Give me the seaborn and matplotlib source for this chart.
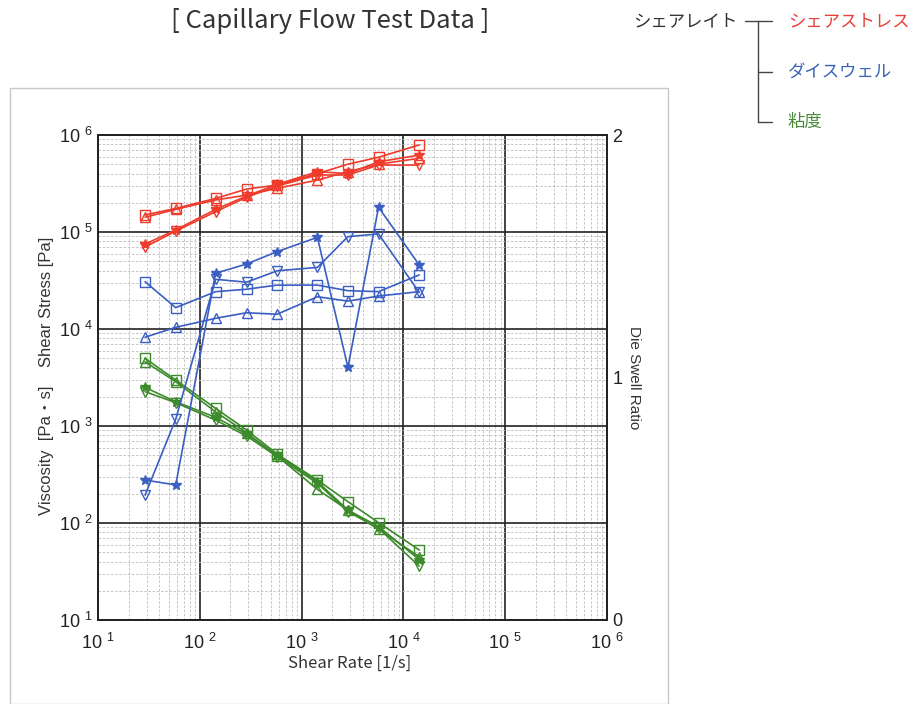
import matplotlib
matplotlib.use("Agg")
import matplotlib.pyplot as plt
from matplotlib.patches import Rectangle
from matplotlib.lines import Line2D
from matplotlib.ticker import FixedLocator, NullFormatter
import seaborn as sns
import pandas as pd

# ---------------- data ----------------
shear_rate = [29, 58, 143, 288, 575, 1430, 2850, 5700, 14300]

# Shear stress [Pa] (left log axis)
stress_sq = [1.50e5, 1.75e5, 2.22e5, 2.77e5, 3.05e5, 4.00e5, 5.00e5, 5.90e5, 7.90e5]
stress_up = [1.42e5, 1.71e5, 2.14e5, 2.40e5, 2.82e5, 3.43e5, 4.19e5, 5.00e5, 5.75e5]
stress_st = [7.5e4, 1.05e5, 1.71e5, 2.35e5, 3.10e5, 4.19e5, 4.00e5, 5.30e5, 6.20e5]
stress_dn = [7.0e4, 1.02e5, 1.62e5, 2.28e5, 2.98e5, 3.87e5, 3.87e5, 4.90e5, 4.90e5]

# Die swell ratio (right linear axis)
swell_sq = [1.395, 1.288, 1.354, 1.364, 1.381, 1.381, 1.358, 1.354, 1.423]
swell_up = [1.166, 1.207, 1.244, 1.267, 1.261, 1.333, 1.315, 1.336, 1.354]
swell_st = [0.577, 0.557, 1.430, 1.468, 1.519, 1.578, 1.042, 1.702, 1.464]
swell_dn = [0.515, 0.828, 1.405, 1.393, 1.440, 1.454, 1.581, 1.592, 1.351]

# Viscosity [Pa s] (left log axis)
visc_sq = [4990, 2980, 1520, 910, 514, 277, 166, 101, 52.7]
visc_up = [4600, 2860, 1400, 853, 490, 222, 136, 86, 45]
visc_st = [2500, 1780, 1230, 828, 502, 267, 136, 92, 42]
visc_dn = [2260, 1740, 1150, 790, 483, 257, 131, 88, 36]

decades = [1, 2, 3, 4, 5, 6]
swell_ticks = [0, 1, 2]

# ---------------- style ----------------
sns.set_style("white")
plt.rcParams['font.family'] = ['Liberation Sans', 'Noto Sans CJK JP', 'DejaVu Sans']
plt.rcParams['mathtext.fontset'] = 'custom'
plt.rcParams['mathtext.rm'] = 'Liberation Sans'
plt.rcParams['mathtext.it'] = 'Liberation Sans'

RED = "#ee3b2b"
BLUE = "#3a5ec2"
GREEN = "#3d8a2c"
TXT = "#333333"
cj = ["Noto Sans CJK JP", "DejaVu Sans"]

fig = plt.figure(figsize=(9.14, 7.04), dpi=100)
ax = fig.add_axes([98 / 914, 1 - 620 / 704, (607 - 98) / 914, (620 - 135) / 704])
ax2 = ax.twinx()

ax.set_xscale("log")
ax.set_yscale("log")
ax.set_xlim(10, 1e6)
ax.set_ylim(10, 1e6)
ax2.set_ylim(0, 2)

# grid
minor = [m * 10 ** d for d in range(1, 6) for m in range(2, 10)]
ax.xaxis.set_minor_locator(FixedLocator(minor))
ax.yaxis.set_minor_locator(FixedLocator(minor))
ax.xaxis.set_minor_formatter(NullFormatter())
ax.yaxis.set_minor_formatter(NullFormatter())
ax.grid(which="minor", color="#bdbdbd", linestyle=(0, (3, 2)), linewidth=0.6)
ax.grid(which="major", color="#222222", linestyle="-", linewidth=1.2)
ax.set_axisbelow(True)

ax.set_xticks([10 ** d for d in decades])
ax.set_xticklabels([r"10 $^{%d}$" % d for d in decades])
ax.set_yticks([10 ** d for d in decades])
ax.set_yticklabels([r"10 $^{%d}$" % d for d in decades])
ax2.set_yticks(swell_ticks)
ax2.set_yticklabels([str(t) for t in swell_ticks])

ax.tick_params(axis="x", which="both", length=0, labelsize=13, colors="#222222", pad=9)
ax.tick_params(axis="y", which="both", length=0, labelsize=13, colors="#222222", pad=4)
ax2.tick_params(which="both", length=0, labelsize=13, colors="#222222", pad=4)

for a in (ax, ax2):
    for s in a.spines.values():
        s.set_color("#222222")
        s.set_linewidth(1.3)

def draw(a, y, color, marker):
    df = pd.DataFrame({"x": shear_rate, "y": y})
    filled = marker == "*"
    sns.lineplot(data=df, x="x", y="y", ax=a, color=color, marker=marker,
                 markersize=7.5 if filled else 7,
                 markerfacecolor=color if filled else "none",
                 markeredgecolor=color, markeredgewidth=1.0,
                 linewidth=1.2, sort=False, legend=False)

for y, m in [(stress_sq, "s"), (stress_up, "^"), (stress_st, "*"), (stress_dn, "v")]:
    draw(ax, y, RED, m)
for y, m in [(visc_sq, "s"), (visc_up, "^"), (visc_st, "*"), (visc_dn, "v")]:
    draw(ax, y, GREEN, m)
for y, m in [(swell_sq, "s"), (swell_up, "^"), (swell_st, "*"), (swell_dn, "v")]:
    draw(ax2, y, BLUE, m)

ax.set_xlabel("")
ax.set_ylabel("")
ax2.set_ylabel("")

# axis labels
fig.text(350 / 914, 1 - 663 / 704, "Shear Rate [1/s]", ha="center", va="center", fontsize=12, color=TXT, family=cj)
fig.text(47 / 914, 1 - 302 / 704, "Shear Stress [Pa]", ha="center", va="center", rotation=90, fontsize=12, color=TXT)
fig.text(47 / 914, 1 - 450 / 704, "Viscosity  [Pa・s]", ha="center", va="center", rotation=90, fontsize=12, color=TXT)
fig.text(634 / 914, 1 - 378 / 704, "Die Swell Ratio", ha="center", va="center", rotation=270, fontsize=11, color=TXT)

# outer frame
fig.patches.append(Rectangle((10 / 914, 0), (668 - 10) / 914, 1 - 88 / 704, transform=fig.transFigure,
                             fill=False, edgecolor="#c8c8c8", linewidth=1.0))

# title
fig.text(330 / 914, 1 - 21 / 704, "[ Capillary Flow Test Data ]", ha="center", va="center",
         fontsize=18.5, color=TXT, family=cj)

# legend tree
fig.text(737 / 914, 1 - 21 / 704, "シェアレイト", ha="right", va="center", fontsize=12.5, color=TXT, family=cj)
fig.text(788 / 914, 1 - 21 / 704, "シェアストレス", ha="left", va="center", fontsize=12.5, color="#e8403a", family=cj)
fig.text(788 / 914, 1 - 72 / 704, "ダイスウェル", ha="left", va="center", fontsize=12.5, color="#3a63b8", family=cj)
fig.text(788 / 914, 1 - 122 / 704, "粘度", ha="left", va="center", fontsize=12.5, color="#4a8a3a", family=cj)

def fl(x0, y0, x1, y1):
    fig.lines.append(Line2D([x0 / 914, x1 / 914], [1 - y0 / 704, 1 - y1 / 704],
                            transform=fig.transFigure, color="#444444", linewidth=1.0))

fl(745, 21, 772, 21)
fl(758, 21, 758, 122)
fl(758, 72, 772, 72)
fl(758, 122, 772, 122)

fig.savefig("out.png", dpi=100)
